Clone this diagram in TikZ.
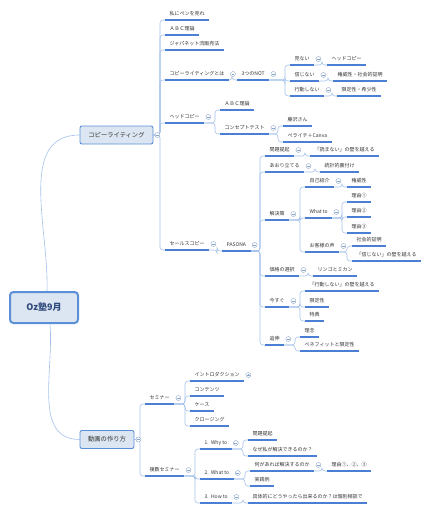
\documentclass[tikz,border=0pt]{standalone}
\usepackage{fontspec}
\setmainfont{Noto Sans CJK JP}
\usepackage{xcolor}
\definecolor{lineblue}{HTML}{4A7FD4}
\definecolor{branchblue}{HTML}{A3C1EA}
\definecolor{boxfill}{HTML}{DCE6F2}
\definecolor{boxdraw}{HTML}{5B8FD6}
\definecolor{txt}{HTML}{333333}
\definecolor{foldgray}{HTML}{8AA4C8}
\definecolor{roottxt}{HTML}{2F4A7A}

\begin{document}
\begin{tikzpicture}[x=1pt, y=-1pt,
        topic/.style={anchor=south west, inner xsep=4.5pt, inner ysep=3pt, text height=4pt, text depth=1pt,
            font=\fontsize{5}{6}\selectfont, text=txt},
        mainbox/.style={draw=boxdraw, fill=boxfill, rounded corners=2pt, line width=0.9pt,
            font=\fontsize{6.3}{7}\selectfont, text=txt, minimum height=18pt, inner sep=0pt},
        rootbox/.style={draw=boxdraw, fill=boxfill, rounded corners=3.5pt, line width=2pt,
            font=\fontsize{9}{10}\selectfont\bfseries, text=roottxt, minimum width=68pt, minimum height=31pt},
        uline/.style={draw=lineblue, line width=1.1pt},
        branch/.style={draw=branchblue, line width=0.6pt, rounded corners=3pt},
        fold/.style={circle, draw=foldgray, fill=white, line width=0.4pt, minimum size=5pt, inner sep=0pt,
            path picture={\draw[foldgray, line width=0.4pt] ([xshift=-1.4pt]path picture bounding box.center) -- ([xshift=1.4pt]path picture bounding box.center);}},
        unfold/.style={circle, draw=foldgray, fill=white, line width=0.4pt, minimum size=5pt, inner sep=0pt,
            path picture={\draw[foldgray, line width=0.4pt] ([xshift=-1.4pt]path picture bounding box.center) -- ([xshift=1.4pt]path picture bounding box.center)
                ([yshift=-1.4pt]path picture bounding box.center) -- ([yshift=1.4pt]path picture bounding box.center);}}
    ]
        \useasboundingbox (0,0) rectangle (433,511);

        % Root and main branches
        \node[rootbox] (root) at (44,307.5) {Oz塾9月};
        \node[mainbox, minimum width=73pt] (cw) at (116.5,135) {コピーライティング};
        \node[mainbox, minimum width=54pt] (dg) at (107,439.5) {動画の作り方};

        % Copywriting
        \node[topic] (pen) at (165,20) {私にペンを売れ};
        \node[topic] (abc) at (165,35) {ＡＢＣ理論};
        \node[topic] (japa) at (165,50) {ジャパネット流販売法};
        \node[topic] (cwdef) at (165,80) {コピーライティングとは};
        \node[topic] (not3) at (237,80) {3つのNOT};
        \node[topic] (minai) at (290,65) {見ない};
        \node[topic] (headc) at (327,65) {ヘッドコピー};
        \node[topic] (shinjinai) at (290,81) {信じない};
        \node[topic] (kenni) at (333,81) {権威性・社会的証明};
        \node[topic] (koudou) at (290,96) {行動しない};
        \node[topic] (gentei) at (337,96) {限定性・希少性};
        \node[topic] (head) at (165,123) {ヘッドコピー};
        \node[topic] (abc2) at (220,110) {ＡＢＣ理論};
        \node[topic] (concept) at (220,134) {コンセプトテスト};
        \node[topic] (fuji) at (283,126) {藤沢さん};
        \node[topic] (perai) at (283,142) {ペライチ＋Canva};
        \node[topic] (sales) at (165,250) {セールスコピー};
        \node[topic] (pasona) at (222,251) {PASONA};

        % PASONA
        \node[topic] (mondai) at (265,156) {問題提起};
        \node[topic] (yomanai) at (310,156) {「読まない」の壁を越える};
        \node[topic] (aori) at (265,172) {あおり立てる};
        \node[topic] (toukei) at (320,172) {統計的裏付け};
        \node[topic] (kaiketsu) at (265,220) {解決策};
        \node[topic] (jiko) at (305,187) {自己紹介};
        \node[topic] (kenni2) at (347,187) {権威性};
        \node[topic] (whatto) at (305,218) {What to};
        \node[topic] (riyu1) at (347,202) {理由①};
        \node[topic] (riyu2) at (347,217) {理由②};
        \node[topic] (riyu3) at (347,233) {理由③};
        \node[topic] (koe) at (305,252) {お客様の声};
        \node[topic] (shakai) at (352,246) {社会的証明};
        \node[topic] (shinjinai2) at (352,261) {「信じない」の壁を越える};
        \node[topic] (kakaku) at (265,276) {価格の選択};
        \node[topic] (ringo) at (313,276) {リンゴとミカン};
        \node[topic] (imasugu) at (265,307) {今すぐ};
        \node[topic] (koudou2) at (305,291) {「行動しない」の壁を越える};
        \node[topic] (gentei2) at (305,307) {限定性};
        \node[topic] (tokuten) at (305,321) {特典};
        \node[topic] (tsuishin) at (265,345) {追伸};
        \node[topic] (rinen) at (300,337) {理念};
        \node[topic] (bene) at (300,351) {ベネフィットと限定性};

        % Video
        \node[topic] (seminar) at (145,404) {セミナー};
        \node[topic] (intro) at (190,381) {イントロダクション};
        \node[topic] (contents) at (190,396) {コンテンツ};
        \node[topic] (case) at (190,411) {ケース};
        \node[topic] (closing) at (190,426) {クロージング};
        \node[topic] (fukusu) at (145,476) {複数セミナー};
        \node[topic] (why) at (200,449) {1.~~Why to};
        \node[topic] (mondai2) at (248,440) {問題提起};
        \node[topic] (naze) at (248,456) {なぜ私が解決できるのか？};
        \node[topic] (whatto2) at (200,479) {2.~~What to};
        \node[topic] (nani) at (250,471) {何があれば解決するのか};
        \node[topic] (riyu123) at (327,471) {理由①、②、③};
        \node[topic] (jissen) at (250,486) {実践例};
        \node[topic] (howto) at (200,503) {3.~~How to};
        \node[topic] (gutai) at (248,503) {具体的にどうやったら出来るのか？は個別相談で};

        % Connections
        \draw[branch] ([xshift=3pt]root.north) to[out=88, in=180] (cw.west);
        \draw[branch] ([xshift=6pt]root.south) to[out=-85, in=180] (dg.west);

        \foreach \p/\c in {cw/pen, cw/abc, cw/japa, cw/cwdef, cw/head, cw/sales, dg/seminar, dg/fukusu}
            \draw[branch] (\p.east) -| ([xshift=-5pt]\c.south west) -- (\c.south west);

        \foreach \p/\c in {cwdef/not3, not3/minai, not3/shinjinai, not3/koudou, minai/headc, shinjinai/kenni,
                koudou/gentei, head/abc2, head/concept, concept/fuji, concept/perai, sales/pasona,
                pasona/mondai, pasona/aori, pasona/kaiketsu, pasona/kakaku, pasona/imasugu, pasona/tsuishin,
                mondai/yomanai, aori/toukei, kaiketsu/jiko, kaiketsu/whatto, kaiketsu/koe, jiko/kenni2,
                whatto/riyu1, whatto/riyu2, whatto/riyu3, koe/shakai, koe/shinjinai2, kakaku/ringo,
                imasugu/koudou2, imasugu/gentei2, imasugu/tokuten, tsuishin/rinen, tsuishin/bene,
                seminar/intro, seminar/contents, seminar/case, seminar/closing,
                fukusu/why, fukusu/whatto2, fukusu/howto, why/mondai2, why/naze,
                whatto2/nani, whatto2/jissen, nani/riyu123, howto/gutai}
            \draw[branch] (\p.south east) -| ([xshift=-5pt]\c.south west) -- (\c.south west);

        % Underlines
        \foreach \n in {pen, abc, japa, cwdef, not3, minai, headc, shinjinai, kenni, koudou, gentei, head,
                abc2, concept, fuji, perai, sales, pasona, mondai, yomanai, aori, toukei, kaiketsu, jiko,
                kenni2, whatto, riyu1, riyu2, riyu3, koe, shakai, shinjinai2, kakaku, ringo, imasugu,
                koudou2, gentei2, tokuten, tsuishin, rinen, bene, seminar, intro, contents, case, closing,
                fukusu, why, mondai2, naze, whatto2, nani, riyu123, jissen, howto, gutai}
            \draw[uline] (\n.south west) -- (\n.south east);

        % Fold markers
        \node[fold] (cw-f) at ([xshift=4pt]cw.east) {};
        \node[fold] (dg-f) at ([xshift=4pt]dg.east) {};
        \foreach \n in {cwdef, not3, minai, shinjinai, koudou, head, concept, sales, pasona, mondai, aori,
                kaiketsu, jiko, whatto, koe, kakaku, imasugu, tsuishin, seminar, fukusu, why, whatto2, nani, howto}
            \node[fold] (\n-f) at ([xshift=4pt, yshift=6pt]\n.south east) {};
        \node[unfold] (intro-f) at ([xshift=4pt, yshift=6pt]intro.south east) {};
    \end{tikzpicture}
\end{document}
